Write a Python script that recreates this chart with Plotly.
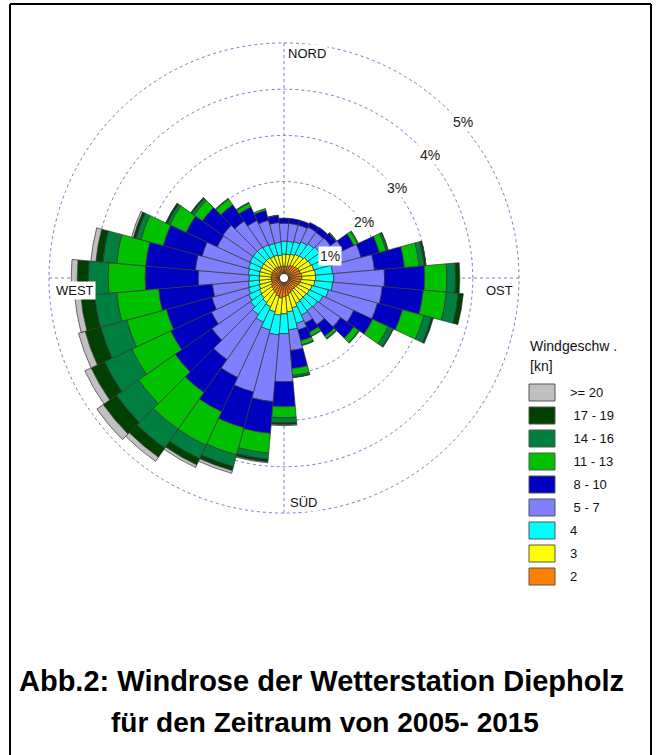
import plotly.graph_objects as go

# direction of each sector (degrees, compass)
directions = [d * 10 for d in range(36)]

# frequency (%) per wind-speed class and direction (0, 10, ..., 350 deg)
spd_2 = [0.17,0.17,0.19,0.22,0.24,0.26,0.28,0.28,0.30,0.30,0.28,0.26,0.24,0.22,0.22,0.24,0.26,0.30,
         0.32,0.35,0.32,0.28,0.26,0.24,0.22,0.19,0.19,0.19,0.19,0.19,0.19,0.19,0.19,0.19,0.17,0.17]
spd_3 = [0.26,0.26,0.26,0.26,0.26,0.28,0.28,0.30,0.30,0.30,0.30,0.28,0.28,0.28,0.28,0.28,0.32,0.35,
         0.37,0.37,0.35,0.32,0.30,0.28,0.28,0.28,0.26,0.26,0.26,0.26,0.26,0.26,0.26,0.24,0.26,0.24]
spd_4 = [0.28,0.28,0.28,0.30,0.32,0.32,0.35,0.37,0.37,0.39,0.39,0.37,0.32,0.30,0.28,0.28,0.35,0.39,
         0.43,0.43,0.41,0.37,0.32,0.28,0.26,0.24,0.24,0.22,0.24,0.26,0.28,0.28,0.28,0.28,0.26,0.28]
spd_5_7 = [0.39,0.39,0.37,0.35,0.30,0.28,0.41,0.69,0.91,1.10,1.08,1.10,0.74,0.61,0.37,0.19,0.15,0.45,
           1.04,1.45,1.39,1.32,1.19,1.02,0.89,0.82,0.78,1.10,1.15,1.04,0.78,0.80,0.69,0.58,0.52,0.43]
spd_8_10 = [0.11,0.11,0.11,0.11,0.13,0.15,0.26,0.41,0.65,0.87,0.89,0.56,0.45,0.35,0.30,0.22,0.24,0.39,
            0.54,0.69,0.80,0.82,0.87,0.97,0.97,1.02,1.17,1.15,1.08,0.87,0.74,0.54,0.43,0.32,0.22,0.15]
spd_11_13 = [0,0,0,0,0,0.02,0.09,0.15,0.32,0.48,0.50,0.48,0.37,0.13,0.06,0.09,0.09,0.15,
             0.24,0.43,0.61,0.80,0.97,0.97,0.93,0.89,0.91,0.80,0.63,0.50,0.39,0.22,0.15,0.09,0.04,0.01]
spd_14_16 = [0,0,0,0,0,0,0.02,0.04,0.11,0.19,0.26,0.17,0.11,0.02,0.02,0.01,0.02,0.04,
             0.11,0.13,0.26,0.32,0.50,0.58,0.65,0.58,0.48,0.43,0.30,0.11,0.06,0.06,0.02,0.02,0,0]
spd_17_19 = [0,0,0,0,0,0,0,0.01,0.04,0.09,0.11,0.04,0.02,0,0,0,0,0.01,
             0.04,0.06,0.09,0.15,0.24,0.35,0.32,0.35,0.30,0.24,0.15,0.06,0.04,0.03,0,0,0,0]
spd_20 = [0,0,0,0,0,0,0,0,0,0,0,0,0,0,0,0,0,0,
          0.02,0.02,0.06,0.06,0.11,0.17,0.15,0.15,0.13,0.13,0.11,0.04,0,0,0,0,0,0]

class_labels = ["2", "3", "4", " 5 - 7", " 8 - 10", " 11 - 13", " 14 - 16", " 17 - 19", ">= 20"]
class_values = [spd_2, spd_3, spd_4, spd_5_7, spd_8_10, spd_11_13, spd_14_16, spd_17_19, spd_20]
class_colors = ["#FF8000", "#FFFF00", "#00FFFF", "#8080FF", "#0000C0",
                "#00C000", "#008040", "#004000", "#C0C0C0"]

radial_ticks = [1, 2, 3, 4, 5]
radial_tick_text = ["1%", "2%", "3%", "4%", "5%"]
compass_text = ["NORD", "OST", "SÜD", "WEST"]
r_max = 5.05

W, H = 661, 755
def px(x):
    return x / W
def py(y):
    return 1 - y / H

fig = go.Figure()
for lab, vals, col in zip(class_labels, class_values, class_colors):
    fig.add_trace(go.Barpolar(
        r=vals, theta=directions, width=[10] * len(directions), name=lab,
        marker=dict(color=col, line=dict(color="#333333", width=0.7)),
        showlegend=False, hoverinfo="skip"))

cx, cy = 284, 278
hole_px, unit_px = 4, 46.2
R = hole_px + unit_px * r_max
grid_col = "#7878C8"
fig.update_layout(
    width=W, height=H, margin=dict(l=0, r=0, t=0, b=0),
    paper_bgcolor="white", plot_bgcolor="white", showlegend=False,
    polar=dict(
        domain=dict(x=[px(cx - R), px(cx + R)], y=[py(cy + R), py(cy - R)]),
        hole=hole_px / R, bgcolor="white", barmode="stack",
        radialaxis=dict(range=[0, r_max], tickvals=radial_ticks, showticklabels=False, ticks="",
                        showline=False, gridcolor=grid_col, griddash="dot", gridwidth=1,
                        layer="below traces"),
        angularaxis=dict(rotation=90, direction="clockwise", tickvals=[0, 90, 180, 270],
                         showticklabels=False, ticks="", showline=False, gridcolor=grid_col,
                         griddash="dot", gridwidth=1, layer="below traces"),
    ),
)

fnt = "Arial, Liberation Sans, sans-serif"
ann = []
# compass labels
for txt, (x, y) in zip(compass_text, [(307, 53), (500, 290), (303, 502), (75, 290)]):
    ann.append(dict(x=px(x), y=py(y), xref="paper", yref="paper", text=txt, showarrow=False,
                    font=dict(family=fnt, size=13, color="#111"), bgcolor="white",
                    xanchor="center", yanchor="middle", borderpad=1))
# radial percent labels
for txt, (x, y) in zip(radial_tick_text, [(330, 256), (364, 222), (397, 188), (430, 155), (463, 122)]):
    ann.append(dict(x=px(x), y=py(y), xref="paper", yref="paper", text=txt, showarrow=False,
                    font=dict(family=fnt, size=14, color="#222"), bgcolor="white",
                    xanchor="center", yanchor="middle", borderpad=1))

# legend (drawn manually)
shapes = []
ann.append(dict(x=px(528), y=py(346), xref="paper", yref="paper", text="Windgeschw .",
                showarrow=False, font=dict(family=fnt, size=14, color="#111"),
                xanchor="left", yanchor="middle"))
ann.append(dict(x=px(528), y=py(366), xref="paper", yref="paper", text="[kn]",
                showarrow=False, font=dict(family=fnt, size=14, color="#111"),
                xanchor="left", yanchor="middle"))
leg_order = list(range(len(class_labels)))[::-1]
for i, k in enumerate(leg_order):
    top = 384 + 23 * i
    shapes.append(dict(type="rect", xref="paper", yref="paper",
                       x0=px(529), x1=px(555), y0=py(top + 17), y1=py(top),
                       fillcolor=class_colors[k], line=dict(color="#555555", width=1)))
    ann.append(dict(x=px(568), y=py(top + 8.5), xref="paper", yref="paper",
                    text=class_labels[k].replace(" ", "\u00a0"), showarrow=False,
                    font=dict(family=fnt, size=13, color="#111"),
                    xanchor="left", yanchor="middle"))

# figure border
for x0, y0, x1, y1 in [(10, 4, 10, 760), (10, 4, 651, 4), (651, 4, 651, 760)]:
    shapes.append(dict(type="line", xref="paper", yref="paper", x0=px(x0), y0=py(y0),
                       x1=px(x1), y1=py(y1), line=dict(color="black", width=2)))

# caption
ann.append(dict(x=px(17), y=py(681), xref="paper", yref="paper",
                text="<b>Abb.2: Windrose der Wetterstation Diepholz</b>", showarrow=False,
                font=dict(family=fnt, size=29, color="black"), xanchor="left", yanchor="middle"))
ann.append(dict(x=px(325), y=py(722), xref="paper", yref="paper",
                text="<b>für den Zeitraum von 2005- 2015</b>", showarrow=False,
                font=dict(family=fnt, size=28, color="black"), xanchor="center", yanchor="middle"))

fig.update_layout(annotations=ann, shapes=shapes)
fig.write_html("out.html", config={"displayModeBar": False, "staticPlot": True},
               post_script="document.body.style.margin='0';document.body.style.padding='0';"
                           "document.body.style.overflow='hidden';")
